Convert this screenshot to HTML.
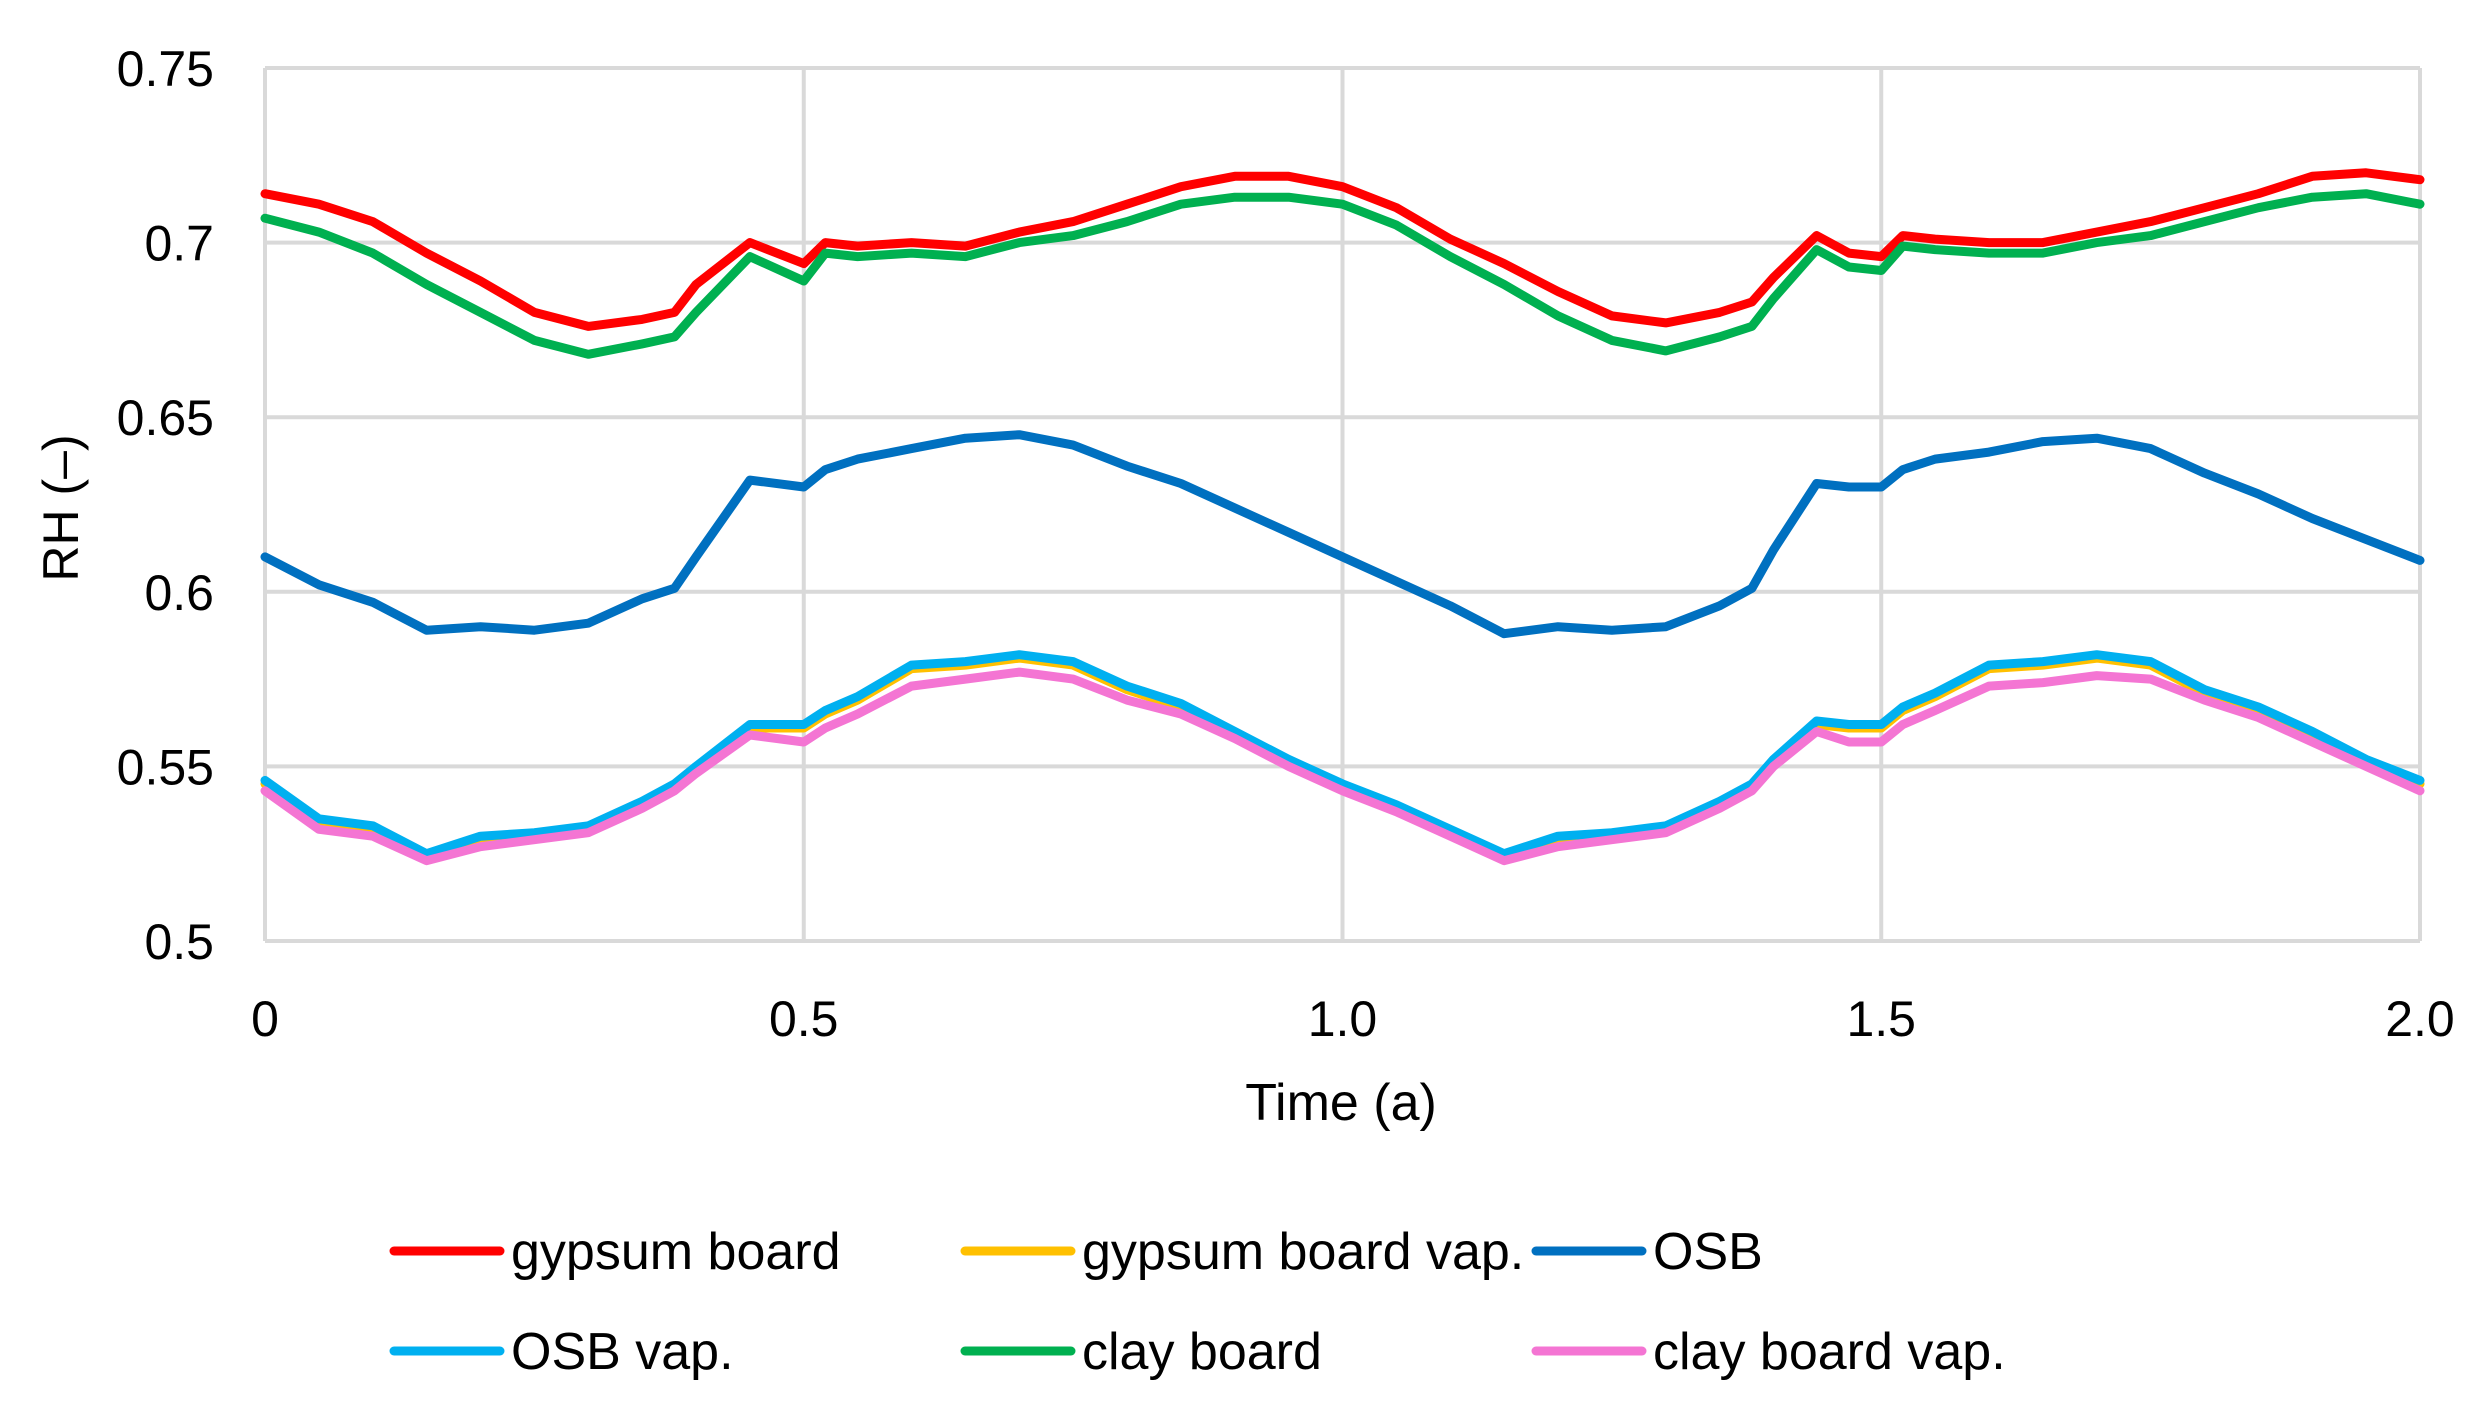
<!DOCTYPE html>
<html><head><meta charset="utf-8"><style>
html,body{margin:0;padding:0;background:#fff;}
svg{display:block;font-family:"Liberation Sans",sans-serif;}
</style></head><body>
<svg id="chart" width="2489" height="1410" viewBox="0 0 2489 1410">
<g id="grid"></g>
<g id="series"></g>
<g id="axes"></g>
<text x="1341" y="1120" font-size="52" text-anchor="middle">Time (a)</text>
<text transform="translate(78,508) rotate(-90)" font-size="50" text-anchor="middle">RH (–)</text>
<g id="legend"></g>
</svg>
<script>
const times=[0,.05,.1,.15,.2,.25,.3,.35,.38,.4,.45,.5,.52,.55,.6,.65,.7,.75,.8,.85,.9,.95,1.0,1.05,1.1,1.15,1.2,1.25,1.3,1.35,1.38,1.4,1.44,1.47,1.5,1.52,1.55,1.6,1.65,1.7,1.75,1.8,1.85,1.9,1.95,2.0];
const gypsum=[.714,.711,.706,.697,.689,.680,.676,.678,.680,.688,.700,.694,.700,.699,.700,.699,.703,.706,.711,.716,.719,.719,.716,.710,.701,.694,.686,.679,.677,.680,.683,.690,.702,.697,.696,.702,.701,.700,.700,.703,.706,.710,.714,.719,.720,.718];
const gypsumVap=[.545,.534,.532,.524,.529,.530,.532,.539,.544,.549,.561,.561,.565,.569,.578,.579,.581,.579,.572,.567,.559,.551,.544,.538,.531,.524,.529,.530,.532,.539,.544,.551,.562,.561,.561,.566,.570,.578,.579,.581,.579,.571,.566,.559,.551,.545];
const osb=[.610,.602,.597,.589,.590,.589,.591,.598,.601,.610,.632,.630,.635,.638,.641,.644,.645,.642,.636,.631,.624,.617,.610,.603,.596,.588,.590,.589,.590,.596,.601,.612,.631,.630,.630,.635,.638,.640,.643,.644,.641,.634,.628,.621,.615,.609];
const osbVap=[.546,.535,.533,.525,.530,.531,.533,.540,.545,.550,.562,.562,.566,.570,.579,.580,.582,.580,.573,.568,.560,.552,.545,.539,.532,.525,.530,.531,.533,.540,.545,.552,.563,.562,.562,.567,.571,.579,.580,.582,.580,.572,.567,.560,.552,.546];
const clay=[.707,.703,.697,.688,.680,.672,.668,.671,.673,.680,.696,.689,.697,.696,.697,.696,.700,.702,.706,.711,.713,.713,.711,.705,.696,.688,.679,.672,.669,.673,.676,.684,.698,.693,.692,.699,.698,.697,.697,.700,.702,.706,.710,.713,.714,.711];
const clayVap=[.543,.532,.530,.523,.527,.529,.531,.538,.543,.548,.559,.557,.561,.565,.573,.575,.577,.575,.569,.565,.558,.550,.543,.537,.530,.523,.527,.529,.531,.538,.543,.550,.560,.557,.557,.562,.566,.573,.574,.576,.575,.569,.564,.557,.550,.543];
const yTicks=[0.5,0.55,0.6,0.65,0.7,0.75];
const yTickLabels=["0.5","0.55","0.6","0.65","0.7","0.75"];
const xTicks=[0,0.5,1.0,1.5,2.0];
const xTickLabels=["0","0.5","1.0","1.5","2.0"];
const seriesNames=["gypsum board","gypsum board vap.","OSB","OSB vap.","clay board","clay board vap."];

const NS="http://www.w3.org/2000/svg";
const L=265,R=2420,T=68,B=941;
const xs=t=>L+(t-0)/(2-0)*(R-L);
const ys=v=>B-(v-0.5)/(0.75-0.5)*(B-T);
function mk(tag,attrs,parent){const e=document.createElementNS(NS,tag);for(const k in attrs)e.setAttribute(k,attrs[k]);parent.appendChild(e);return e;}
const grid=document.getElementById('grid'),axes=document.getElementById('axes'),ser=document.getElementById('series'),leg=document.getElementById('legend');
yTicks.forEach((v,i)=>{
 const l=mk('line',{x1:L,x2:R,y1:ys(v),y2:ys(v),stroke:'#d9d9d9','stroke-width':4},grid);
 
 
 const t=mk('text',{x:214,y:ys(v)+18,'font-size':50,'text-anchor':'end'},axes);
 t.textContent=yTickLabels[i];
 
 
});
xTicks.forEach((v,i)=>{
 const l=mk('line',{x1:xs(v),x2:xs(v),y1:T,y2:B,stroke:'#d9d9d9','stroke-width':4},grid);
 
 
 const t=mk('text',{x:xs(v),y:1036,'font-size':50,'text-anchor':'middle'},axes);
 t.textContent=xTickLabels[i];
 
 
});
const data=[gypsum,gypsumVap,osb,osbVap,clay,clayVap];
const colors=['#ff0000','#ffc000','#0070c0','#00b0f0','#00b050','#f475d3'];
const slugs=['gypsum-board','gypsum-board-vap','osb','osb-vap','clay-board','clay-board-vap'];
data.forEach((arr,k)=>{
 const pts=arr.map((v,i)=>xs(times[i]).toFixed(1)+','+ys(v).toFixed(1)).join(' ');
 const p=mk('polyline',{points:pts,fill:'none',stroke:colors[k],'stroke-width':9,'stroke-linejoin':'round','stroke-linecap':'round'},ser);
 
 
});
const legX=[394,965,1536],legY=[1251,1351];
seriesNames.forEach((n,k)=>{
 const cx=legX[k%3],cy=legY[Math.floor(k/3)];
 const g=mk('g',{},leg);
 
 
 mk('line',{x1:cx,x2:cx+106,y1:cy,y2:cy,stroke:colors[k],'stroke-width':9,'stroke-linecap':'round'},g);
 const t=mk('text',{x:cx+117,y:cy+18,'font-size':52},g);
 t.textContent=n;
});
</script>
</body></html>
